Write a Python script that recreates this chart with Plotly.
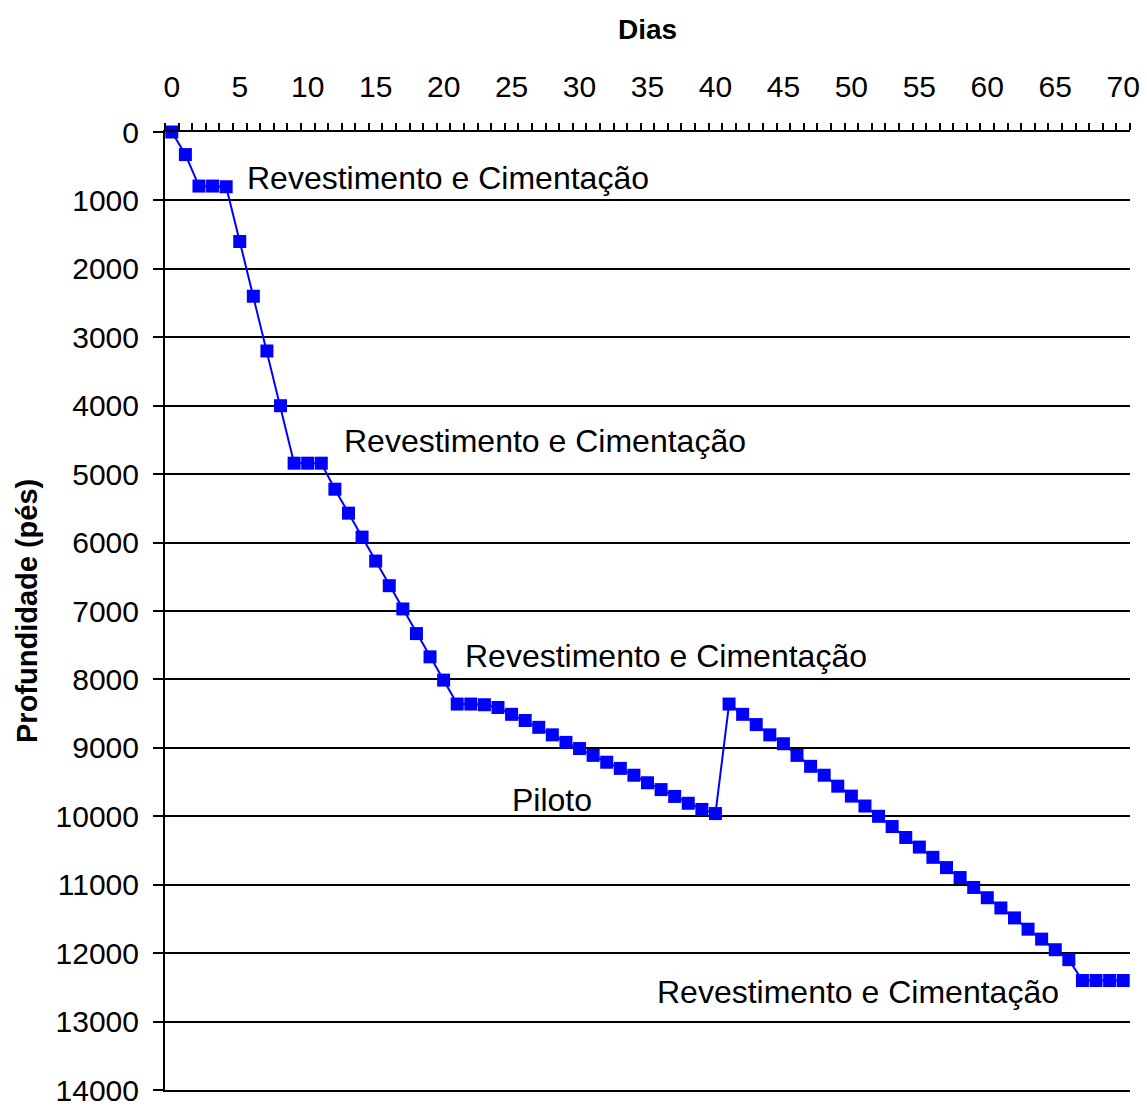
import plotly.graph_objects as go

days = list(range(0, 71))
depth = [0, 330, 790, 790, 800, 1600, 2400, 3200, 4000, 4840,
         4840, 4840, 5220, 5570, 5920, 6270, 6630, 6970, 7330, 7670,
         8010, 8360, 8360, 8370, 8410, 8510, 8600, 8700, 8810, 8920,
         9010, 9110, 9210, 9300, 9400, 9510, 9610, 9710, 9810, 9900,
         9960, 8360, 8510, 8660, 8810, 8940, 9110, 9270, 9400, 9560,
         9705, 9850, 10000, 10150, 10310, 10450, 10600, 10750, 10895, 11040,
         11190, 11340, 11485, 11650, 11795, 11950, 12095, 12400, 12400, 12400,
         12400]

x_tick_vals = list(range(0, 71, 5))
x_tick_labels = [str(v) for v in x_tick_vals]
y_tick_vals = list(range(0, 14001, 1000))
y_tick_labels = [str(v) for v in y_tick_vals]

notes_text = ["Revestimento e Cimentação", "Revestimento e Cimentação",
              "Revestimento e Cimentação", "Piloto", "Revestimento e Cimentação"]
notes_x = [5.4, 12.55, 21.4, 24.9, 35.55]
notes_y = [676, 4517, 7656, 9759, 12563]

FONT = "Liberation Sans, Arial, sans-serif"

fig = go.Figure()
fig.add_trace(go.Scatter(
    x=days, y=depth, mode="lines+markers",
    line=dict(color="#0000FF", width=2),
    marker=dict(symbol="square", size=13, color="#0000FF"),
    showlegend=False, cliponaxis=False,
))

for t, xx, yy in zip(notes_text, notes_x, notes_y):
    fig.add_annotation(x=xx, y=yy, text=t, showarrow=False, xanchor="left",
                       yanchor="middle", font=dict(family=FONT, size=32, color="black"))

# axis titles
fig.add_annotation(x=0.5, y=1, xref="paper", yref="paper", yshift=103,
                   text="<b>Dias</b>", showarrow=False, xanchor="center", yanchor="middle",
                   font=dict(family=FONT, size=28, color="black"))
fig.add_annotation(x=0, y=0.5, xref="paper", yref="paper", xshift=-138,
                   text="<b>Profundidade (pés)</b>", showarrow=False, textangle=-90,
                   xanchor="center", yanchor="middle",
                   font=dict(family=FONT, size=29, color="black"))

fig.update_layout(
    width=1147, height=1106,
    margin=dict(l=165, r=17, t=132, b=16),
    plot_bgcolor="white", paper_bgcolor="white",
    font=dict(family=FONT, color="black"),
)

fig.update_xaxes(
    side="top", range=[-0.5, 70.5], automargin=False,
    tickmode="array", tickvals=x_tick_vals, ticktext=x_tick_labels,
    ticks="", showgrid=False, zeroline=False,
    showline=True, mirror=True, linecolor="black", linewidth=2,
    tickfont=dict(family=FONT, size=30, color="black"),
    ticklabelstandoff=21, ticklabeloverflow="allow",
    minor=dict(tick0=-0.5, dtick=1, ticks="outside", ticklen=7, tickwidth=1.5,
               tickcolor="black", showgrid=False),
)

fig.update_yaxes(
    range=[14000, 0], automargin=False,
    tickmode="array", tickvals=y_tick_vals, ticktext=y_tick_labels,
    ticks="outside", ticklen=10, tickwidth=2, tickcolor="black",
    showgrid=True, gridcolor="black", gridwidth=2, zeroline=False,
    showline=True, linecolor="black", linewidth=2,
    tickfont=dict(family=FONT, size=30, color="black"),
    ticklabelstandoff=8, ticklabeloverflow="allow",
)

fig.write_html("out.html", config={"displayModeBar": False},
               post_script="document.body.style.margin='0px';document.body.style.overflow='hidden';")
